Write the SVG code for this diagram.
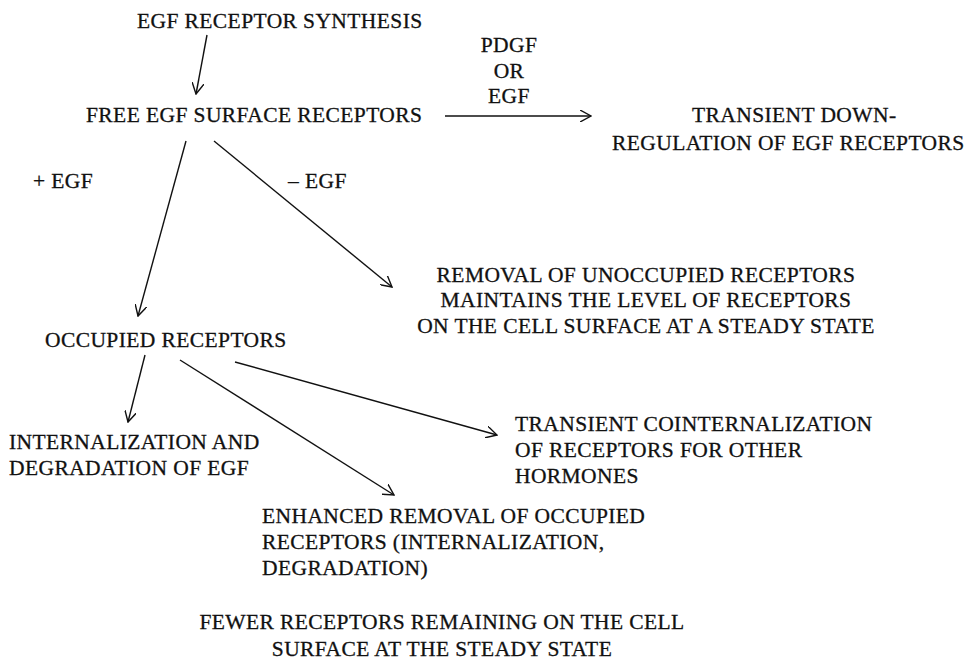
<svg xmlns="http://www.w3.org/2000/svg" width="980" height="664" viewBox="0 0 980 664">
<style>
text{font-family:"Liberation Serif","DejaVu Serif","Times New Roman",serif;font-size:21.5px;letter-spacing:0.4px;fill:#111;stroke:#111;stroke-width:0.3}
.m{text-anchor:middle}
.c{stroke:#111;stroke-width:1.4;fill:none}
</style>
<defs>
<marker id="ah" viewBox="0 0 12 12" refX="11" refY="6" markerWidth="12" markerHeight="12" markerUnits="userSpaceOnUse" orient="auto">
<path d="M0,0 L11,6 L0,12" fill="none" stroke="#111" stroke-width="1.4"/>
</marker>
</defs>
<rect width="980" height="664" fill="#fff"/>
<g id="connectors">
<line class="c" x1="207" y1="35" x2="196" y2="94" marker-end="url(#ah)"/>
<line class="c" x1="445" y1="116" x2="591" y2="116" marker-end="url(#ah)"/>
<line class="c" x1="186" y1="141" x2="138" y2="316" marker-end="url(#ah)"/>
<line class="c" x1="214" y1="141" x2="392" y2="287" marker-end="url(#ah)"/>
<line class="c" x1="145" y1="355" x2="128" y2="422" marker-end="url(#ah)"/>
<line class="c" x1="180" y1="360" x2="394" y2="495" marker-end="url(#ah)"/>
<line class="c" x1="235" y1="362" x2="497" y2="435" marker-end="url(#ah)"/>
</g>
<g id="synthesis"><text x="137" y="28">EGF RECEPTOR SYNTHESIS</text></g>
<g id="free"><text x="86" y="122">FREE EGF SURFACE RECEPTORS</text></g>
<g id="pdgf-label">
<text class="m" x="509" y="52">PDGF</text>
<text class="m" x="509" y="78">OR</text>
<text class="m" x="509" y="103">EGF</text>
</g>
<g id="transient-down">
<text x="692" y="122">TRANSIENT DOWN-</text>
<text x="612" y="150">REGULATION OF EGF RECEPTORS</text>
</g>
<g id="plus-egf"><text x="33" y="188">+ EGF</text></g>
<g id="minus-egf"><text x="288" y="188">– EGF</text></g>
<g id="removal">
<text class="m" x="646" y="282">REMOVAL OF UNOCCUPIED RECEPTORS</text>
<text class="m" x="646" y="307">MAINTAINS THE LEVEL OF RECEPTORS</text>
<text class="m" x="646" y="333">ON THE CELL SURFACE AT A STEADY STATE</text>
</g>
<g id="occupied"><text x="45" y="347">OCCUPIED RECEPTORS</text></g>
<g id="internalization">
<text x="9" y="449">INTERNALIZATION AND</text>
<text x="9" y="475">DEGRADATION OF EGF</text>
</g>
<g id="cointernalization">
<text x="515" y="431">TRANSIENT COINTERNALIZATION</text>
<text x="515" y="457">OF RECEPTORS FOR OTHER</text>
<text x="515" y="483">HORMONES</text>
</g>
<g id="enhanced">
<text x="262" y="523">ENHANCED REMOVAL OF OCCUPIED</text>
<text x="262" y="549">RECEPTORS (INTERNALIZATION,</text>
<text x="262" y="575">DEGRADATION)</text>
</g>
<g id="fewer">
<text class="m" x="442" y="629">FEWER RECEPTORS REMAINING ON THE CELL</text>
<text class="m" x="442" y="656">SURFACE AT THE STEADY STATE</text>
</g>
</svg>
